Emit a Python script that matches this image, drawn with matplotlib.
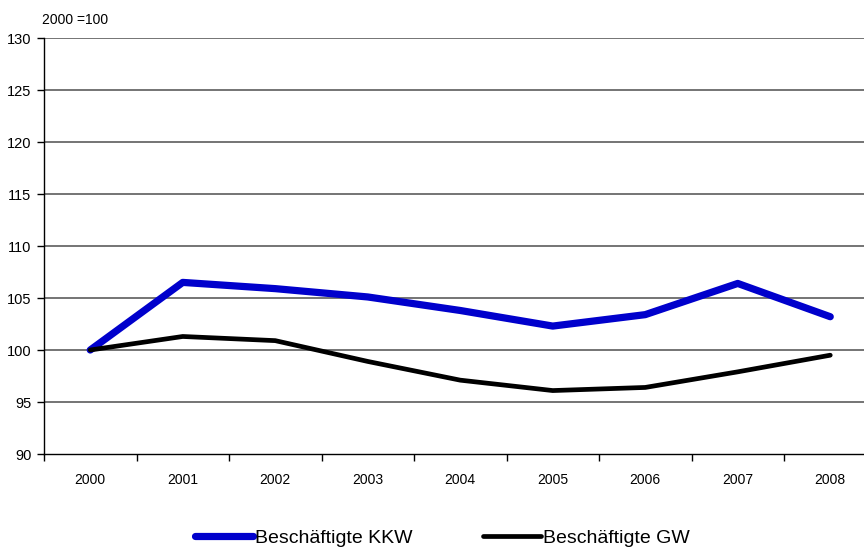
import matplotlib
matplotlib.use("Agg")
import matplotlib.pyplot as plt
from matplotlib.ticker import FixedLocator, NullFormatter, FixedFormatter

plt.rcParams['font.family'] = ['Liberation Sans', 'DejaVu Sans']

years = ["2000", "2001", "2002", "2003", "2004", "2005", "2006", "2007", "2008"]
kkw = [100.0, 106.5, 105.9, 105.1, 103.8, 102.3, 103.4, 106.4, 103.2]
gw = [100.0, 101.3, 100.9, 98.9, 97.1, 96.1, 96.4, 97.9, 99.5]
y_ticks = [90, 95, 100, 105, 110, 115, 120, 125, 130]
label_kkw = "Beschäftigte KKW"
label_gw = "Beschäftigte GW"
index_note = "2000 =100"

fig = plt.figure(figsize=(8.64, 5.48), dpi=100)
ax = fig.add_axes([44 / 864, 1 - 454 / 548, 832.5 / 864, 416 / 548])

x = list(range(len(years)))
ax.plot(x, kkw, color="#0000CC", lw=5.2, solid_capstyle="round",
        solid_joinstyle="round", label=label_kkw, zorder=3)
ax.plot(x, gw, color="#000000", lw=3.4, solid_capstyle="round",
        solid_joinstyle="round", label=label_gw, zorder=3)

ax.set_xlim(-0.5, len(years) - 0.5)
ax.set_ylim(90, 130)

# category boundaries carry the tick marks, centres carry the labels
ax.xaxis.set_major_locator(FixedLocator([i - 0.5 for i in range(len(years) + 1)]))
ax.xaxis.set_major_formatter(NullFormatter())
ax.xaxis.set_minor_locator(FixedLocator(x))
ax.xaxis.set_minor_formatter(FixedFormatter(years))
ax.tick_params(axis="x", which="major", length=5, width=1, direction="out", color="black")
ax.tick_params(axis="x", which="minor", length=0, pad=14, labelsize=10)

ax.set_yticks(y_ticks)
ax.set_yticklabels([str(v) for v in y_ticks])
ax.tick_params(axis="y", length=5, width=1, direction="out", pad=4, labelsize=10.5)

for v in y_ticks[1:]:
    ax.axhline(v, color="#747474", lw=1.4, zorder=1)

for side in ("top", "right"):
    ax.spines[side].set_visible(False)
for side in ("left", "bottom"):
    ax.spines[side].set_color("black")
    ax.spines[side].set_linewidth(1.0)

fig.text(42 / 864, 1 - 20 / 548, index_note, fontsize=10, va="center", ha="left")

handles, labels = ax.get_legend_handles_labels()
fig.legend(handles, labels, loc="center", bbox_to_anchor=(0.512, 1 - 538 / 548),
           ncol=2, frameon=False, fontsize=14, handlelength=3.0,
           handletextpad=0.1, columnspacing=3.6, borderpad=0, borderaxespad=0)

fig.savefig("out.png", dpi=100)
